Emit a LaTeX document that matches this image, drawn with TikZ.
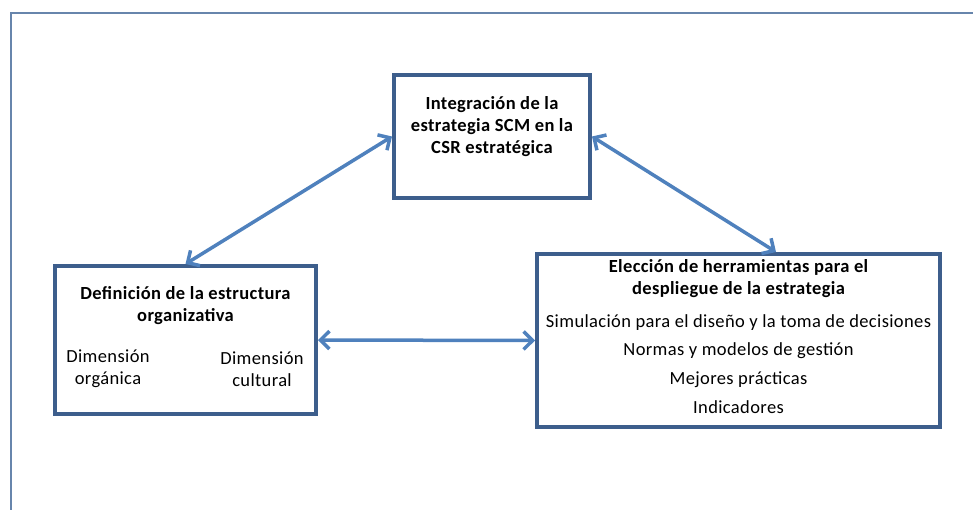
\documentclass[tikz,border=0pt]{standalone}
\usepackage{fontspec}
\setmainfont{Carlito}[LetterSpace=2]
\usetikzlibrary{positioning, calc, arrows.meta}

\definecolor{boxblue}{RGB}{61,94,140}
\definecolor{arrowblue}{RGB}{79,129,189}
\definecolor{frameblue}{RGB}{103,133,172}

\begin{document}
\fontsize{18.5}{22}\selectfont
\begin{tikzpicture}
    [x=1pt, y=-1pt,
    boxnode/.style={rectangle, draw=boxblue, line width=4pt},
    titlenode/.style={align=center, font=\bfseries, inner sep=0pt},
    dimnode/.style={align=center, inner sep=0pt},
    itemnode/.style={inner sep=0pt, text height=12pt, text depth=4pt},
    link/.style={arrowblue, line width=3.5pt,
        {Straight Barb[length=9pt, width=18pt]}-{Straight Barb[length=9pt, width=18pt]}},]

    \useasboundingbox (0,0) rectangle (973,509);
    \clip (0,0) rectangle (973,509);

    %Frame
    \draw[frameblue, line width=1.5pt](11,520) -- (11,13) -- (990,13);

    %Boxes
    \node[boxnode, minimum width=196pt, minimum height=123pt](top) at (492,136.5){};
    \node[boxnode, minimum width=261pt, minimum height=148pt](org) at (185.5,340){};
    \node[boxnode, minimum width=403pt, minimum height=173pt](tools) at (738.5,340.5){};

    %Texts
    \node[titlenode](toptitle) at (492,126.5){Integración de la\\estrategia SCM en la\\CSR estratégica};

    \node[titlenode](orgtitle) at (185.5,306){Definición de la estructura\\organizativa};
    \node[dimnode](organica) at (108,369){Dimensión\\orgánica};
    \node[dimnode](cultural) at (262,369){Dimensión\\cultural};

    \node[titlenode](toolstitle) at (738.5,279){Elección de herramientas para el\\despliegue de la estrategia};
    \node[itemnode](sim) at (738.5,323){Simulación para el diseño y la toma de decisiones};
    \node[itemnode](normas)[below=12.5pt of sim]{Normas y modelos de gestión};
    \node[itemnode](mejores)[below=12.5pt of normas]{Mejores prácticas};
    \node[itemnode](indic)[below=12.5pt of mejores]{Indicadores};

    %Lines
    \draw[link](top.west) -- (org.north);
    \draw[link](top.east) -- ([xshift=37.5pt]tools.north);
    \draw[link](org.east) -- (tools.west);
\end{tikzpicture}
\end{document}
